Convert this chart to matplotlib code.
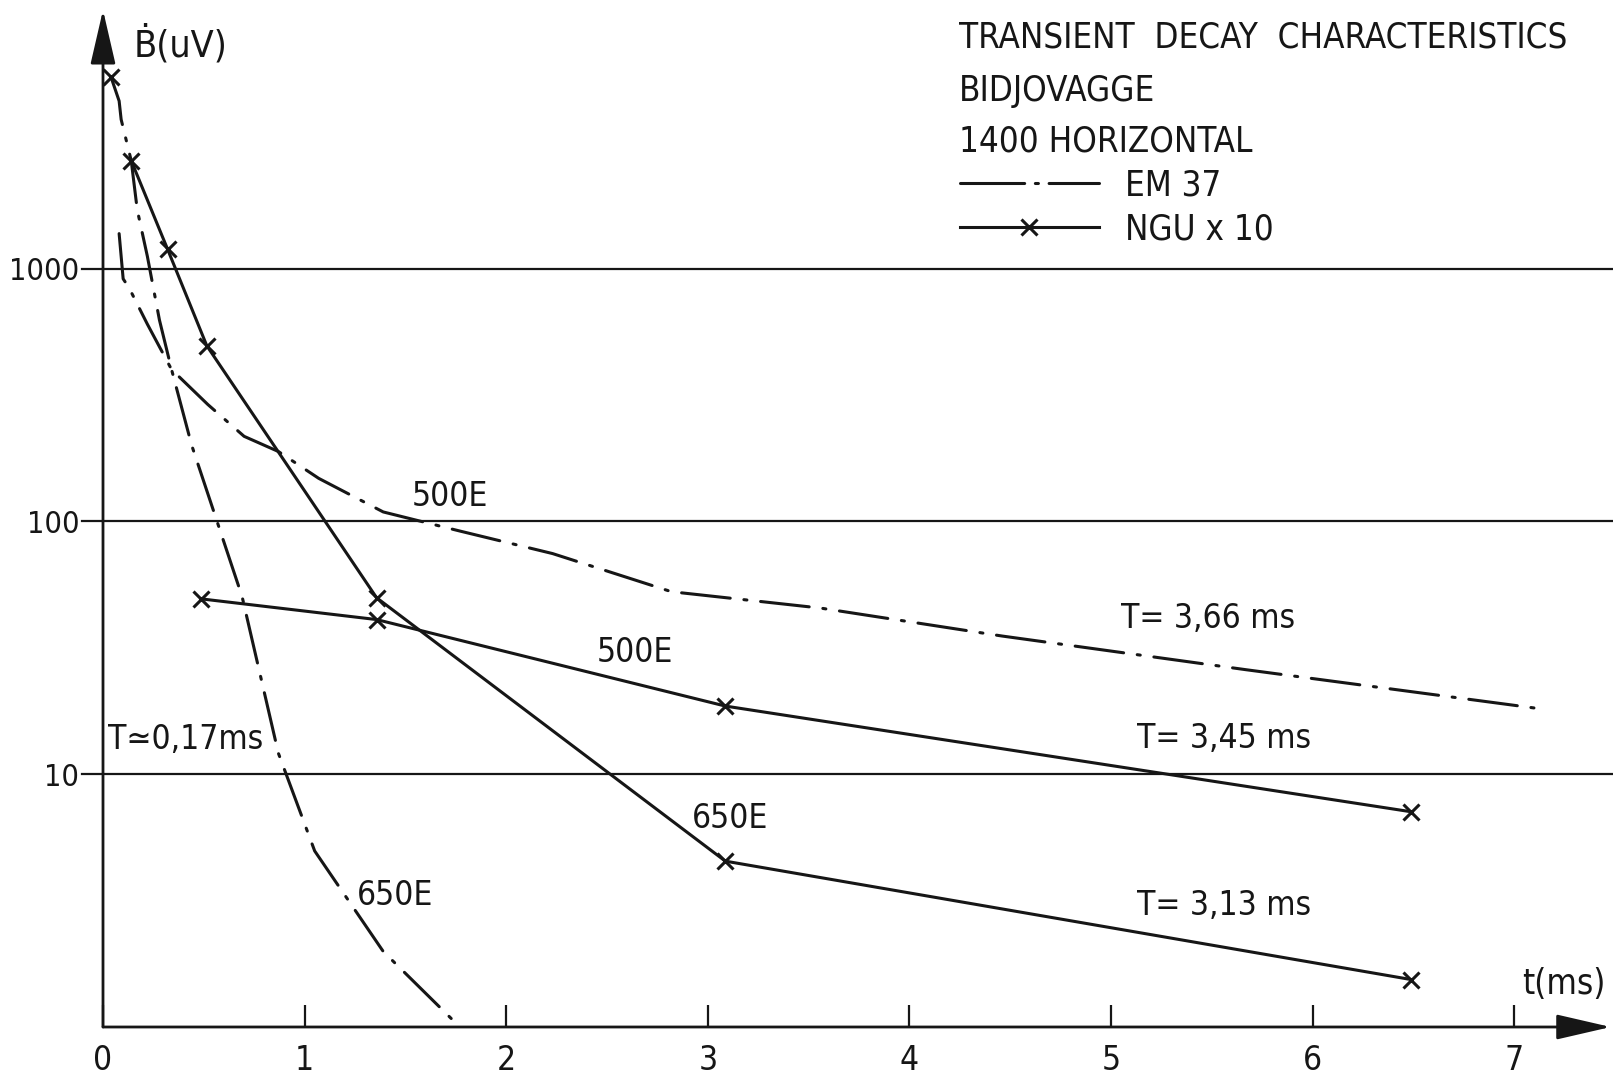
import matplotlib
matplotlib.use("Agg")
import matplotlib.pyplot as plt
from matplotlib.lines import Line2D
import numpy as np

FONT = ['DejaVu Sans']
plt.rcParams['font.family'] = FONT
plt.rcParams['font.stretch'] = 'condensed'

# ---------------- data ----------------
# EM 37, 500 E  (dash-dot)
em500_t = [0.08, 0.10, 0.13, 0.22, 0.34, 0.52, 0.70, 0.87, 1.07, 1.39, 1.77, 2.23, 2.82, 3.56, 4.46, 5.67, 7.14]
em500_v = [1375, 911, 837, 603, 399, 290, 217, 189, 148, 109, 91.6, 74.6, 52.7, 45.4, 35.2, 25.9, 18.1]

# EM 37, 650 E  (dash-dot)
em650_t = [0.04, 0.08, 0.09, 0.14, 0.17, 0.22, 0.28, 0.34, 0.44, 0.69, 0.87, 1.05, 1.39, 1.77]
em650_v = [5715, 4603, 3890, 2673, 1706, 1119, 626, 399, 200, 50.4, 12.1, 4.97, 1.99, 1.0]

# NGU x 10, 650 E (solid with x)
ngu650_t = [0.04, 0.14, 0.32, 0.515, 1.357, 3.087, 6.49]
ngu650_v = [5715, 2673, 1195, 495, 49.9, 4.53, 1.54]

# NGU x 10, 500 E (solid with x)
ngu500_t = [0.485, 1.357, 3.087, 6.49]
ngu500_v = [49.4, 40.9, 18.6, 7.1]

grid_levels = [10, 100, 1000]
ytick_labels = ['10', '100', '1000']
xticks = [0, 1, 2, 3, 4, 5, 6, 7]

title_lines = ['TRANSIENT  DECAY  CHARACTERISTICS', 'BIDJOVAGGE', '1400 HORIZONTAL']
legend_labels = ['EM 37', 'NGU x 10']

# curve annotations: (text, t, value)
annotations = [
    ('500E', 1.53, 126),
    ('500E', 2.45, 30.3),
    ('650E', 2.92, 6.65),
    ('650E', 1.26, 3.32),
    ('T= 3,66 ms', 5.05, 41.3),
    ('T= 3,45 ms', 5.13, 13.8),
    ('T= 3,13 ms', 5.13, 3.03),
    ('T≃0,17ms', 0.026, 13.7),
]

# ---------------- figure ----------------
W, H = 1613, 1079
fig = plt.figure(figsize=(W / 100, H / 100), dpi=100)
fig.patch.set_facecolor('white')

x0_px, y0_px, top_px = 103, 1027, 10
ax = fig.add_axes([x0_px / W, (H - y0_px) / H, 1 - x0_px / W, (y0_px - top_px) / H])
ax.set_facecolor('none')
px_per_ms = 201.6
px_per_dec = 252.8
xmax = (W - x0_px) / px_per_ms
ax.set_xlim(0, xmax)
ax.set_yscale('log')
ax.set_ylim(1, 10 ** ((y0_px - top_px) / px_per_dec))

INK = '#161616'
LW = 2.2
FS = 24

for s in ax.spines.values():
    s.set_visible(False)

# horizontal reference lines
for lv in grid_levels:
    ax.plot([-0.105, xmax], [lv, lv], color=INK, lw=1.6, clip_on=False, zorder=1)

# axes with arrows
ax.annotate('', xy=(0.9985, 0), xytext=(0, 0), xycoords='axes fraction',
            arrowprops=dict(arrowstyle='-|>,head_length=1.3,head_width=0.3',
                            lw=2.0, color=INK, mutation_scale=26, shrinkA=0, shrinkB=0))
ax.annotate('', xy=(0, 1.0), xytext=(0, 0), xycoords='axes fraction',
            arrowprops=dict(arrowstyle='-|>,head_length=1.3,head_width=0.3',
                            lw=2.0, color=INK, mutation_scale=26, shrinkA=0, shrinkB=0))

# curves
dashdot = (16, 4.5, 1.0, 4.5)
ax.plot(em500_t, em500_v, color=INK, lw=LW, dashes=dashdot, dash_capstyle='round', zorder=3)
ax.plot(em650_t, em650_v, color=INK, lw=LW, dashes=dashdot, dash_capstyle='round', zorder=3)
ax.plot(ngu650_t[1:], ngu650_v[1:], color=INK, lw=LW, zorder=3)
ax.plot(ngu650_t, ngu650_v, ls='none', marker='x', ms=11, mew=2.2, color=INK, zorder=4)
ax.plot(ngu500_t, ngu500_v, color=INK, lw=LW, marker='x', ms=11, mew=2.2, zorder=4)

# ticks
ax.set_xticks(xticks)
ax.set_xticklabels([str(t) for t in xticks])
ax.tick_params(axis='x', direction='in', length=16, width=1.6, color=INK,
               pad=12, labelsize=FS, labelcolor=INK)
ax.set_yticks(grid_levels)
ax.set_yticklabels(ytick_labels)
ax.yaxis.set_minor_locator(matplotlib.ticker.NullLocator())
ax.tick_params(axis='y', length=0, pad=17, labelsize=FS - 2, labelcolor=INK)

# axis labels as text
ax.text(0.153, 7709, 'Ḃ(uV)', fontsize=FS + 3, color=INK, ha='left', va='center')
ax.text(7.04, 1.48, 't(ms)', fontsize=FS + 1, color=INK, ha='left', va='center')

for txt, t, v in annotations:
    ax.text(t, v, txt, fontsize=FS, color=INK, ha='left', va='center')

# title block
tx = 959 / W
for txt, ypx in zip(title_lines, [38, 90.5, 142]):
    fig.text(tx, 1 - ypx / H, txt, fontsize=FS + 1, color=INK, ha='left', va='center')

# legend
h_em = Line2D([], [], color=INK, lw=LW, dashes=(21, 3.5, 1.0, 3.5), dash_capstyle='round')
h_ngu = Line2D([], [], color=INK, lw=LW, marker='x', ms=11, mew=2.2)
leg = ax.legend([h_em, h_ngu], legend_labels, loc='upper left',
                bbox_to_anchor=(960 / W, 1 - 168 / H), bbox_transform=fig.transFigure,
                frameon=False, fontsize=FS + 1, handlelength=4.0, handletextpad=0.75,
                labelspacing=0.3, numpoints=1, borderpad=0, borderaxespad=0)
for t in leg.get_texts():
    t.set_color(INK)

fig.savefig('out.png', dpi=100, facecolor='white')
